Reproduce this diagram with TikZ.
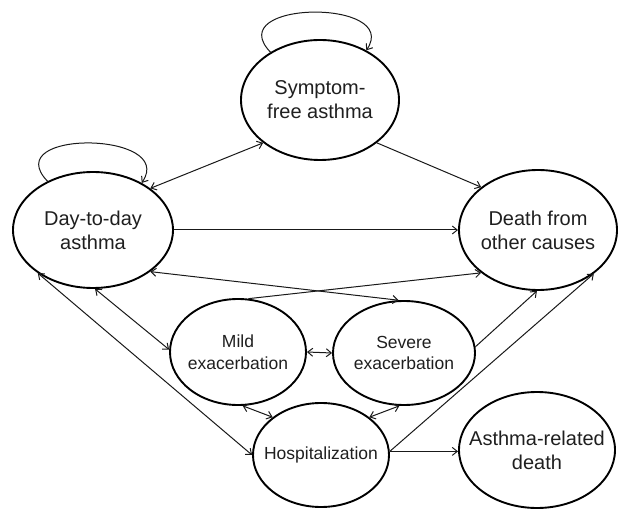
\documentclass[tikz,border=0pt]{standalone}
\usepackage{fontspec}
\setmainfont{Liberation Sans}
\usetikzlibrary{shapes.geometric,arrows.meta}
\begin{document}
\begin{tikzpicture}[x=1pt,y=-1pt,
  state/.style={ellipse, draw=black, line width=1.9pt, inner sep=0pt},
  big/.style={font=\fontsize{20}{24}\selectfont, align=center, text=black!88},
  small/.style={font=\fontsize{17.5}{21.5}\selectfont, align=center, text=black!88},
  conn/.style={line width=1pt, draw=black!90},
  >={Straight Barb[length=5pt,width=8pt]},
]
\useasboundingbox (0,0) rectangle (618,510);

\node[state, minimum width=158pt, minimum height=120pt, label={[big]center:{Symptom-\\free asthma}}] (sf) at (320,100) {};
\node[state, minimum width=160pt, minimum height=116pt, label={[big]center:{Day-to-day\\asthma}}] (dd) at (93,230) {};
\node[state, minimum width=158pt, minimum height=120pt, label={[big]center:{Death from\\other causes}}] (dth) at (538,230) {};
\node[state, minimum width=136pt, minimum height=106pt, label={[small]center:{Mild\\exacerbation}}] (mild) at (238,352) {};
\node[state, minimum width=142pt, minimum height=104pt, label={[small]center:{Severe\\exacerbation}}] (sev) at (404,353) {};
\node[state, minimum width=136pt, minimum height=104pt, label={[small]center:{Hospitalization}}] (hosp) at (321,455) {};
\node[state, minimum width=156pt, minimum height=116pt, label={[big]center:{Asthma-related\\death}}] (ard) at (537,450) {};

\draw[conn,->] (sf.136) .. controls +(-50,-52) and +(35,-52) .. (sf.47);
\draw[conn,->] (dd.133) .. controls +(-50,-52) and +(35,-52) .. (dd.44);

\draw[conn,<->] (dd.36) -- (sf.217);
\draw[conn,->] (sf.-37) -- (dth.143);
\draw[conn,->] (dd.east) -- (dth.west);
\draw[conn,<->] (dd.-36) -- (sev.96);
\draw[conn,->] (mild.79) -- (dth.217);
\draw[conn,<->] (dd.-88) -- (mild.178);
\draw[conn,<->] (dd.218) -- (hosp.180);
\draw[conn,<->] (mild.-85) -- (hosp.142);
\draw[conn,<->] (sev.265) -- (hosp.38);
\draw[conn,<->] (mild.east) -- (sev.west);
\draw[conn,->] (sev.5) -- (dth.269);
\draw[conn,->] (hosp.3) -- (dth.-38);
\draw[conn,->] (hosp.3) -- (hosp.3 -| ard.west);
\end{tikzpicture}
\end{document}
